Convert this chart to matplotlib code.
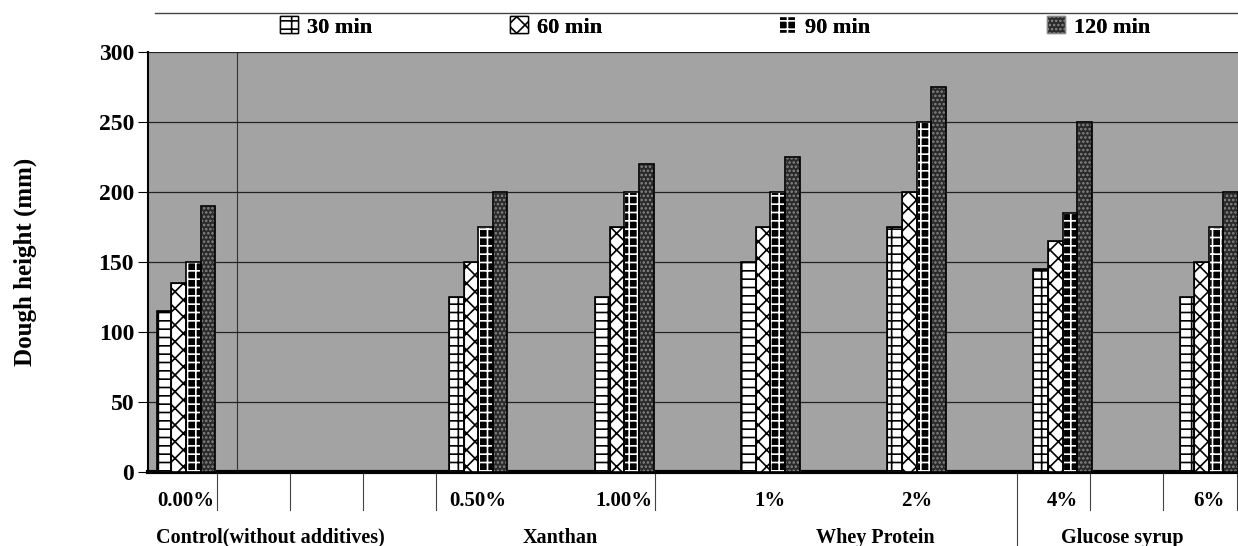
import numpy as np
import matplotlib.pyplot as plt
from matplotlib.patches import Patch
from matplotlib.lines import Line2D

plt.rcParams['font.family'] = ['Liberation Serif', 'DejaVu Serif']
plt.rcParams['font.weight'] = 'bold'
plt.rcParams['hatch.linewidth'] = 1.2

# data
levels = ['0.00%', '0.50%', '1.00%', '1%', '2%', '4%', '6%']
slots = [0, 2, 3, 4, 5, 6, 7]
groups = ['Control(without additives)', 'Xanthan', 'Whey Protein', 'Glucose syrup']
group_x = [0.58, 2.56, 4.72, 6.41]
series = ['30 min', '60 min', '90 min', '120 min']
h30 = [115, 125, 125, 150, 175, 145, 125]
h60 = [135, 150, 175, 175, 200, 165, 150]
h90 = [150, 175, 200, 200, 250, 185, 175]
h120 = [190, 200, 220, 225, 275, 250, 200]
yticks = [0, 50, 100, 150, 200, 250, 300]

styles = [dict(facecolor='white', hatch='-|-'),
          dict(facecolor='white', hatch='xx'),
          dict(facecolor='black', hatch='++'),
          dict(facecolor='#2a2a2a', hatch='....')]

fig = plt.figure(figsize=(12.38, 5.46), dpi=100)
ax = fig.add_axes([148/1238, 1 - 472/546, 1090/1238, 420/546])
ax.set_facecolor('#a3a3a3')

x = np.array(slots, dtype=float)
w = 0.1
handles = []
for i, (name, vals) in enumerate(zip(series, [h30, h60, h90, h120])):
    st = styles[i]
    ec = 'white' if i == 2 else ('#888888' if i == 3 else 'black')
    bars = ax.bar(x + (i - 1.5) * w, vals, w, facecolor=st['facecolor'],
                  hatch=st['hatch'], edgecolor=ec, linewidth=0.8, zorder=3)
    for b in bars:
        ax.add_patch(plt.Rectangle(b.get_xy(), b.get_width(), b.get_height(),
                                   fill=False, edgecolor='black', lw=1.2, zorder=4))
    handles.append(Patch(facecolor=st['facecolor'], hatch=st['hatch'],
                         edgecolor=ec, label=name))

ax.set_xlim(-0.26, 7.2)
ax.set_ylim(0, 300)
ax.set_yticks(yticks)
ax.set_yticklabels([str(t) for t in yticks], fontsize=17, fontweight='bold')
ax.yaxis.grid(True, color='#222222', lw=0.9, zorder=1)
ax.axvline(0.35, color='#333333', lw=0.8, zorder=1)
ax.tick_params(axis='y', length=7, pad=3)
ax.set_xticks([])
for s in ['top', 'right']:
    ax.spines[s].set_visible(False)
ax.spines['left'].set_linewidth(1.5)
ax.spines['bottom'].set_linewidth(3)

ax.set_ylabel('Dough height (mm)', fontsize=18, fontweight='bold', labelpad=44)

# level labels and tick marks under axis
for s, lab in zip(slots, levels):
    ax.text(s, -0.07, lab, transform=ax.get_xaxis_transform(),
            ha='center', va='center', fontsize=15, fontweight='bold')
for t in [0.21, 0.71, 1.21, 1.71, 3.21, 6.19, 6.69, 7.19]:
    ax.plot([t, t], [0, -0.09], transform=ax.get_xaxis_transform(),
            color='#444444', lw=0.8, clip_on=False)
ax.plot([5.69, 5.69], [0, -0.2], transform=ax.get_xaxis_transform(),
        color='#444444', lw=0.8, clip_on=False)
for gx, g in zip(group_x, groups):
    ax.text(gx, -0.157, g, transform=ax.get_xaxis_transform(),
            ha='center', va='center', fontsize=14.5, fontweight='bold')

# legend entries placed one by one along the top
leg_x = [280, 510, 778, 1047]
for hd, lx in zip(handles, leg_x):
    lg = fig.legend(handles=[hd], loc='center left',
                    bbox_to_anchor=(lx/1238, 1 - 27/546), frameon=False,
                    fontsize=16, handlelength=0.8, handleheight=0.8,
                    handletextpad=0.4, borderaxespad=0, borderpad=0)
    fig.add_artist(lg)
fig.add_artist(Line2D([155/1238, 1.0], [1 - 13/546] * 2, color='#444444', lw=1))

fig.savefig('out.png', dpi=100)
